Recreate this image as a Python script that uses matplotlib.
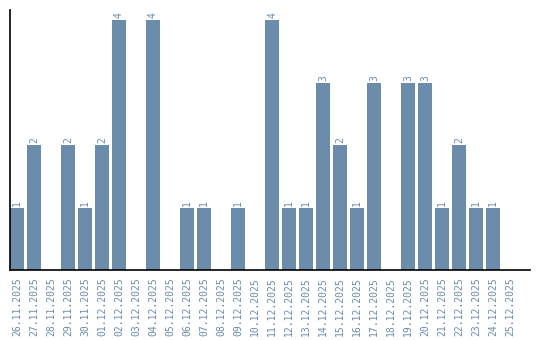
import matplotlib
matplotlib.use('Agg')
import matplotlib.pyplot as plt
import numpy as np

# ~~~~~~~~~~~~~~~~~~~~~~~~~~~~~~~~~~~~~~~~~~~~~~~~~~~~~~~~~~~~~~~~~~~~~~~~~~~~~

dates = ['26.11.2025', '27.11.2025', '28.11.2025', '29.11.2025', '30.11.2025',
         '01.12.2025', '02.12.2025', '03.12.2025', '04.12.2025', '05.12.2025',
         '06.12.2025', '07.12.2025', '08.12.2025', '09.12.2025', '10.12.2025',
         '11.12.2025', '12.12.2025', '13.12.2025', '14.12.2025', '15.12.2025',
         '16.12.2025', '17.12.2025', '18.12.2025', '19.12.2025', '20.12.2025',
         '21.12.2025', '22.12.2025', '23.12.2025', '24.12.2025', '25.12.2025']
counts = [1, 2, 0, 2, 1, 2, 4, 0, 4, 0,
          1, 1, 0, 1, 0, 4, 1, 1, 3, 2,
          1, 3, 0, 3, 3, 1, 2, 1, 1, 0]

bar_color = '#6b8cab'

# ~~~~~~~~~~~~~~~~~~~~~~~~~~~~~~~~~~~~~~~~~~~~~~~~~~~~~~~~~~~~~~~~~~~~~~~~~~~~~

fig = plt.figure(figsize=(5.4, 3.4), dpi=100)
ax = fig.add_axes([10/540, 70/340, 520/540, 260/340])

x = np.arange(len(dates))
width = 14/17
ax.bar(x, counts, width=width, color=bar_color)

for xi, c in zip(x, counts):
    if c > 0:
        ax.text(xi, c + 0.03, str(c), rotation=90, ha='center', va='bottom',
                color=bar_color, family='DejaVu Sans Mono', fontsize=7)

ax.set_xlim(-width/2, 29 + 20/17)
ax.set_ylim(0, 4.16)
ax.set_xticks(x)
ax.set_xticklabels(dates, rotation=90, color=bar_color,
                   family='DejaVu Sans Mono', fontsize=7)
ax.set_yticks([])
ax.tick_params(axis='x', length=0, pad=5)

ax.spines['top'].set_visible(False)
ax.spines['right'].set_visible(False)
ax.spines['left'].set_linewidth(1.2)
ax.spines['bottom'].set_linewidth(1.2)

plt.savefig('out.png', dpi=100)
